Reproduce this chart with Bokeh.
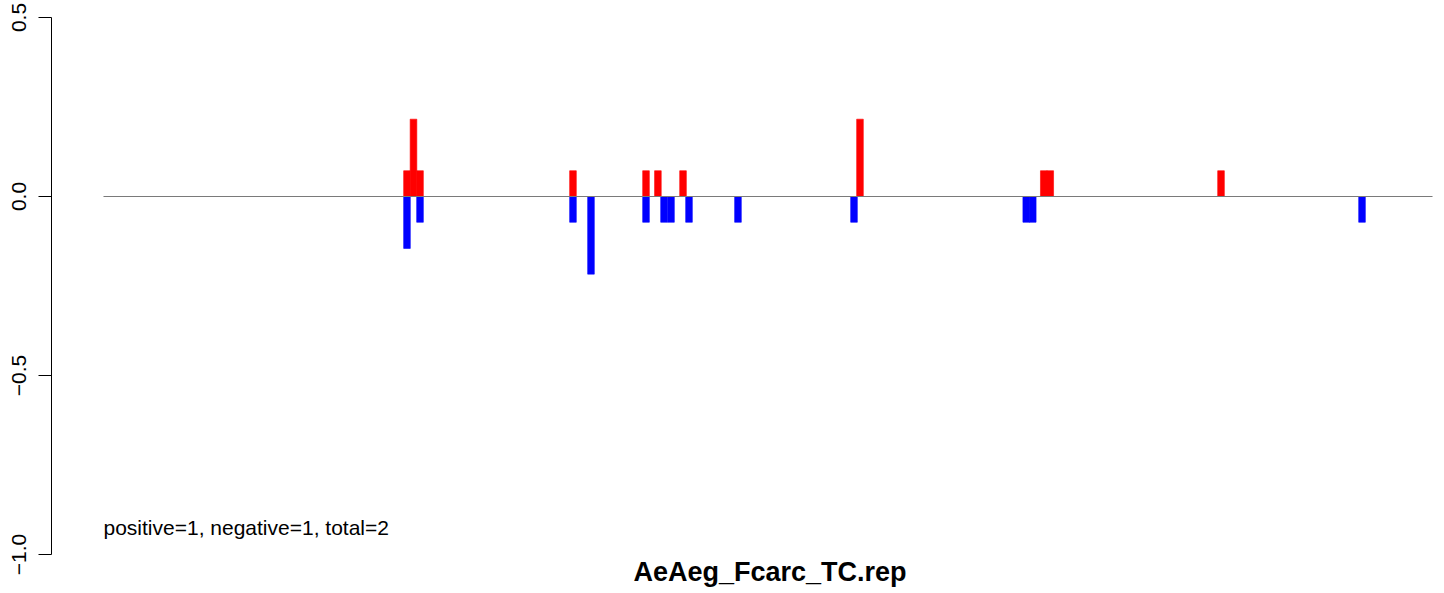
from bokeh.plotting import figure
from bokeh.models import Range1d, FixedTicker, Title, Label
from bokeh.embed import file_html
from bokeh.resources import INLINE

# ---- data ----
# positions along the track (bin units, track spans 0..200)
pos_x = [45.67, 46.65, 47.63, 70.65, 81.64, 83.43, 87.21, 113.84, 141.50, 142.47, 168.17]
pos_y = [0.072, 0.216, 0.072, 0.072, 0.072, 0.072, 0.072, 0.216, 0.072, 0.072, 0.072]
neg_x = [45.67, 47.63, 70.65, 73.36, 81.64, 84.35, 85.40, 88.11, 95.48, 112.94, 138.86, 139.84, 189.39]
neg_y = [-0.145, -0.072, -0.072, -0.217, -0.072, -0.072, -0.072, -0.072, -0.072, -0.072, -0.072, -0.072, -0.072]
track_start, track_end = 0, 200
y_ticks = [-1.0, -0.5, 0.0, 0.5]
y_tick_labels = ["\u22121.0", "\u22120.5", "0.0", "0.5"]
positive_count, negative_count = 1, 1
title_text = "AeAeg_Fcarc_TC.rep"

FONT = "Liberation Sans"

p = figure(width=1440, height=590, output_backend="svg", toolbar_location=None,
           x_axis_location=None, x_range=Range1d(-7.825, 201.2),
           y_range=Range1d(-1.0, 0.5), min_border_left=51, min_border_right=0,
           min_border_top=17, min_border_bottom=36)
p.outline_line_color = None
p.grid.visible = False
p.background_fill_color = "white"
p.border_fill_color = "white"

p.vbar(x=pos_x, top=pos_y, bottom=0, width=1.0, fill_color="#FF0000",
       line_color="#FF0000", line_width=0.6)
p.vbar(x=neg_x, top=neg_y, bottom=0, width=1.0, fill_color="#0000FF",
       line_color="#0000FF", line_width=0.6)
p.line(x=[track_start, track_end], y=[0, 0], line_color="#7a7a7a", line_width=1)

ax = p.yaxis[0]
ax.ticker = FixedTicker(ticks=y_ticks)
ax.major_label_overrides = {t: l for t, l in zip(y_ticks, y_tick_labels)}
ax.major_label_orientation = "vertical"
ax.major_label_text_font = FONT
ax.major_label_text_font_size = "21px"
ax.major_label_text_color = "black"
ax.major_tick_in = 0
ax.major_tick_out = 13
ax.minor_tick_in = 0
ax.minor_tick_out = 0
ax.major_label_standoff = 13
ax.axis_line_color = "black"
ax.major_tick_line_color = "black"
ax.bounds = (-1.0, 0.5)

summary = f"positive={positive_count}, negative={negative_count}, total={positive_count + negative_count}"
p.add_layout(Label(x=track_start, y=-0.925, text=summary, text_baseline="middle",
                   text_font=FONT, text_font_size="21px", text_color="black"))

t = Title(text=title_text, align="left", text_font=FONT, text_font_style="bold",
          text_font_size="27px", text_color="black", standoff=0, offset=582)
p.add_layout(t, "below")

open("out.html", "w").write(file_html(p, INLINE))
